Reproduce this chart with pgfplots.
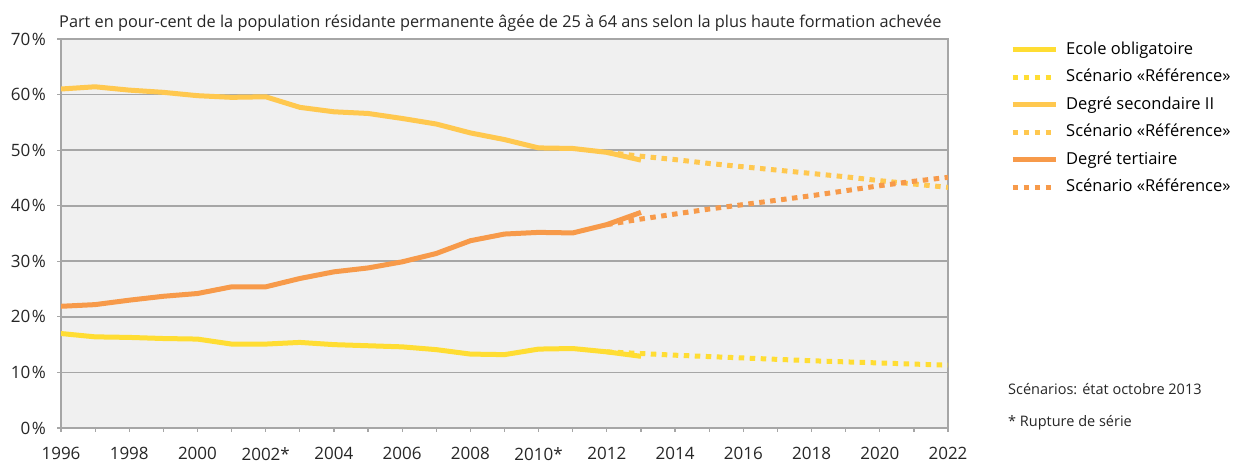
\documentclass[border=0pt]{standalone}
\usepackage{pgfplots}
\pgfplotsset{compat=1.18}
\usepackage{fontspec}
\setmainfont{Open Sans}
\definecolor{cComp}{HTML}{FFDD33}
\definecolor{cSec}{HTML}{FFC84F}
\definecolor{cTer}{HTML}{F79A4A}
\definecolor{gridc}{HTML}{A6A6A6}
\definecolor{bgc}{HTML}{F0F0F0}
\begin{document}
\begin{tikzpicture}[x=1bp,y=1bp]
\useasboundingbox (0,0) rectangle (1237,462);
\begin{axis}[
  at={(61bp,34bp)}, anchor=south west,
  scale only axis, width=887bp, height=389bp,
  xmin=1996, xmax=2022, ymin=0, ymax=70,
  axis background/.style={fill=bgc},
  axis line style={gridc, line width=1.6bp},
  ymajorgrids, grid style={gridc, line width=1.6bp},
  tick pos=left, tick align=outside,
  major tick length=4bp, minor tick length=4bp,
  every tick/.style={gridc, line width=1.2bp},
  xtick={1996,1998,...,2022},
  xticklabels={1996,1998,2000,2002*,2004,2006,2008,2010*,2012,2014,2016,2018,2020,2022},
  minor x tick num=1,
  ytick={0,10,...,70},
  yticklabel={\pgfmathprintnumber{\tick}\kern1.5bp\%},
  /pgf/number format/assume math mode=true,
  /pgf/number format/1000 sep={},
  ticklabel style={font=\fontsize{17bp}{20bp}\selectfont, text=black!85},
  yticklabel style={inner sep=0pt, anchor=east, xshift=-11bp},
  xticklabel style={inner sep=0pt, anchor=north, yshift=-15bp},
  legend style={at={(1.0699,0.995)}, anchor=north west, draw=none, fill=none,
    inner sep=0pt, row sep=10.5bp, font=\fontsize{16.5bp}{20bp}\selectfont,
    nodes={inner sep=0pt, text height=13bp, text depth=4bp},
    /tikz/every odd column/.append style={column sep=8bp}},
  legend cell align=left,
  legend image code/.code={\draw[#1] (0bp,0bp) -- (43bp,0bp);},
  every axis plot/.append style={line width=5bp, line join=round},
]
\addplot[cComp] coordinates {(1996,17.0)(1997,16.4)(1998,16.3)(1999,16.1)(2000,16.0)(2001,15.1)(2002,15.1)(2003,15.4)(2004,15.0)(2005,14.8)(2006,14.6)(2007,14.1)(2008,13.3)(2009,13.2)(2010,14.2)(2011,14.3)(2012,13.7)(2013,12.9)};
\addlegendentry{Ecole obligatoire}
\addplot[cComp, dash pattern=on 5.5bp off 5.5bp] coordinates {(2012,13.7)(2013,13.4)(2014,13.1)(2015,12.85)(2016,12.6)(2017,12.35)(2018,12.1)(2019,11.9)(2020,11.7)(2021,11.5)(2022,11.3)};
\addlegendentry{Scénario «Référence»}
\addplot[cSec] coordinates {(1996,61.0)(1997,61.4)(1998,60.8)(1999,60.4)(2000,59.8)(2001,59.5)(2002,59.6)(2003,57.7)(2004,56.9)(2005,56.6)(2006,55.7)(2007,54.7)(2008,53.1)(2009,51.9)(2010,50.4)(2011,50.3)(2012,49.6)(2013,48.2)};
\addlegendentry{Degré secondaire II}
\addplot[cSec, dash pattern=on 5.5bp off 5.5bp] coordinates {(2012,49.6)(2013,48.9)(2014,48.3)(2015,47.6)(2016,47.0)(2017,46.4)(2018,45.8)(2019,45.2)(2020,44.5)(2021,43.9)(2022,43.3)};
\addlegendentry{Scénario «Référence»}
\addplot[cTer] coordinates {(1996,21.9)(1997,22.2)(1998,23.0)(1999,23.7)(2000,24.2)(2001,25.4)(2002,25.4)(2003,26.9)(2004,28.1)(2005,28.8)(2006,29.9)(2007,31.4)(2008,33.7)(2009,34.9)(2010,35.2)(2011,35.1)(2012,36.6)(2013,38.8)};
\addlegendentry{Degré tertiaire}
\addplot[cTer, dash pattern=on 5.5bp off 5.5bp] coordinates {(2012,36.6)(2013,37.6)(2014,38.5)(2015,39.4)(2016,40.2)(2017,41.0)(2018,41.8)(2019,42.7)(2020,43.6)(2021,44.4)(2022,45.1)};
\addlegendentry{Scénario «Référence»}
\end{axis}
\node[anchor=base west, inner sep=0pt, font=\fontsize{16.3bp}{20bp}\selectfont, text=black!85] at (59,434) {Part en pour-cent de la population résidante permanente âgée de 25 à 64 ans selon la plus haute formation achevée};
\node[anchor=base west, inner sep=0pt, font=\fontsize{14.5bp}{17bp}\selectfont, text=black!85] at (1008,67) {Scénarios: état octobre 2013};
\node[anchor=base west, inner sep=0pt, font=\fontsize{14.5bp}{17bp}\selectfont, text=black!85] at (1008,35) {* Rupture de série};
\end{tikzpicture}
\end{document}
